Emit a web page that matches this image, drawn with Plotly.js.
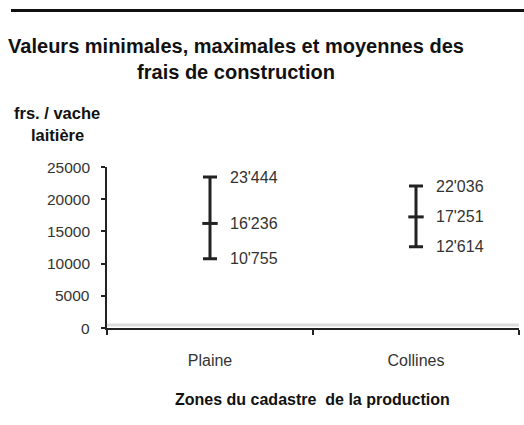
<!DOCTYPE html>
<html><head><meta charset="utf-8">
<script src="https://cdn.plot.ly/plotly-3.0.1.min.js"></script>
<style>html,body{margin:0;padding:0;background:#fff}
#wrap{position:relative;width:524px;height:425px}
#topline{position:absolute;left:11px;top:9px;width:513px;height:3px;background:#111;z-index:10}</style>
</head><body><div id="wrap"><div id="chart" style="width:524px;height:425px"></div><div id="topline"></div></div>
<script>
const zones = ["Plaine", "Collines"];
const minVals = [10755, 12614];
const meanVals = [16236, 17251];
const maxVals = [23444, 22036];
const yTicks = [0, 5000, 10000, 15000, 20000, 25000];

function fmt(v){ return Math.floor(v/1000) + "'" + String(v%1000).padStart(3,'0'); }
const ink = '#222';
const FF = 'Liberation Sans, Arial, sans-serif';

const trace = {
  x: zones, y: meanVals, type: 'scatter', mode: 'markers',
  marker: {symbol: 'line-ew', size: 11, line: {width: 3, color: ink}, color: ink},
  error_y: {type: 'data', symmetric: false,
    array: maxVals.map((v,i)=>v-meanVals[i]),
    arrayminus: meanVals.map((v,i)=>v-minVals[i]),
    color: ink, thickness: 3, width: 7},
  hoverinfo: 'skip', showlegend: false
};

const annotations = [];
zones.forEach((z,i)=>{
  [maxVals[i], meanVals[i], minVals[i]].forEach(v=>{
    annotations.push({x: z, y: v, xref: 'x', yref: 'y', text: fmt(v), showarrow: false,
      xanchor: 'left', yanchor: 'middle', xshift: 18,
      font: {family: FF, size: 16, color: '#333'}});
  });
});
// y tick labels placed further from the axis, as in the original
yTicks.forEach(v=>{
  annotations.push({xref:'paper', yref:'y', x:(92-107)/412, y:v, text:String(v), showarrow:false,
    xanchor:'right', yanchor:'middle', font:{family:FF, size:15.5, color:'#333'}});
});
annotations.push({xref:'paper', yref:'paper', x:(57-107)/412, y:(328-113)/161, text:'<b>frs. / vache</b>',
  showarrow:false, xanchor:'center', yanchor:'middle', font:{family:FF, size:16.5, color:'#111'}});
annotations.push({xref:'paper', yref:'paper', x:(57-107)/412, y:(328-135)/161, text:'<b>laitière</b>',
  showarrow:false, xanchor:'center', yanchor:'middle', font:{family:FF, size:16.5, color:'#111'}});
annotations.push({xref:'paper', yref:'paper', x:(312-107)/412, y:(328-399)/161, text:'<b>Zones du cadastre  de la production</b>',
  showarrow:false, xanchor:'center', yanchor:'middle', font:{family:FF, size:16, color:'#111'}});

const layout = {
  width: 524, height: 425,
  margin: {l: 107, r: 5, t: 167, b: 97},
  paper_bgcolor: '#fff', plot_bgcolor: '#fff',
  font: {family: FF, color: '#333'},
  title: {text: '<b>Valeurs minimales, maximales et moyennes des<br>frais de construction</b>',
    x: 236/524, xanchor: 'center', y: 1-53/425, yanchor: 'top',
    font: {family: FF, size: 20, color: '#111'}},
  xaxis: {type: 'category', range: [-0.5, 1.5], showgrid: false, zeroline: false, showline: true, linecolor: ink, linewidth: 2,
    ticks: 'outside', ticklen: 5, tickcolor: ink, tickwidth: 2, tickson: 'boundaries', ticklabelstandoff: 17,
    tickfont: {size: 16, color: '#333'}},
  yaxis: {range: [0, 25000], tickvals: yTicks, showticklabels: false, showgrid: false, zeroline: false,
    showline: true, linecolor: ink, linewidth: 2, ticks: 'outside', ticklen: 4, tickcolor: ink, tickwidth: 2},
  shapes: [
    {type:'line', xref:'paper', yref:'paper', x0:0, x1:1, y0:3/161, y1:3/161, line:{color:'#dcdcdc', width:3}}
  ],
  annotations: annotations
};
Plotly.newPlot('chart', [trace], layout, {displayModeBar: false, staticPlot: true});
</script></body></html>
